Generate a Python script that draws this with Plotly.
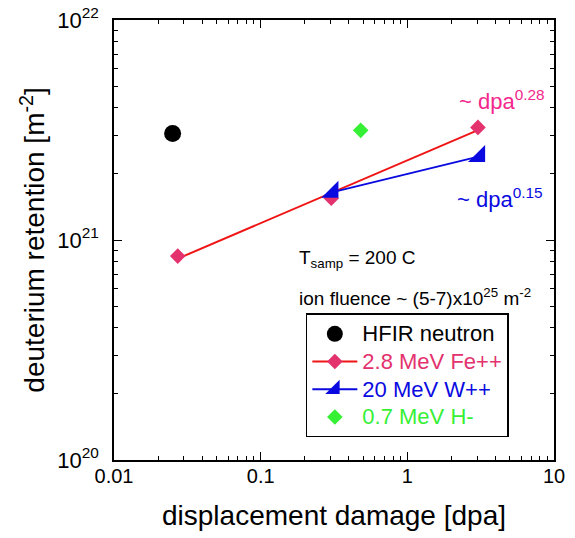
import numpy as np
import plotly.graph_objects as go

# ---- data ----
hfir_x = [0.0251]
hfir_y = [3.05e21]

fe_x = [0.0272, 0.303, 3.03]
fe_y = [8.45e20, 1.55e21, 3.25e21]

w_x = [0.31, 3.1]
w_y = [1.65e21, 2.40e21]

h_x = [0.481]
h_y = [3.15e21]

x_tickvals = [0.01, 0.1, 1, 10]
x_ticktext = ["0.01", "0.1", "1", "10"]
y_tickvals = [1e20, 1e21, 1e22]
y_ticktext = ["10<sup>20</sup>", "10<sup>21</sup>", "10<sup>22</sup>"]

names = ["HFIR neutron", "2.8 MeV Fe++", "20 MeV W++", "0.7 MeV H-"]

# ---- styles ----
FONT = "Liberation Sans, Arial, sans-serif"
C_FE_M = "#e3326e"
C_FE_L = "#f01515"
C_FE_T = "#f4288c"
C_W = "#0a0ae0"
C_H = "#36f036"

# power-law fit for Fe++ (log-log)
slope, icpt = np.polyfit(np.log10(fe_x), np.log10(fe_y), 1)
fit_x = np.array([min(fe_x), max(fe_x)])
fit_y = 10 ** (icpt + slope * np.log10(fit_x))

def lname(txt, col):
    return f'<span style="color:{col};font-size:22px">{txt}</span>'

fig = go.Figure()

# Fe fit line and markers
fig.add_trace(go.Scatter(x=fit_x, y=fit_y, mode="lines",
                         line=dict(color=C_FE_L, width=2), showlegend=False))
fig.add_trace(go.Scatter(x=fe_x, y=fe_y, mode="markers",
                         marker=dict(symbol="diamond", size=12, color=C_FE_M),
                         showlegend=False))
# W line + markers
fig.add_trace(go.Scatter(x=w_x, y=w_y, mode="lines+markers",
                         line=dict(color=C_W, width=2),
                         marker=dict(symbol="triangle-se", size=19, color=C_W),
                         showlegend=False))
# H
fig.add_trace(go.Scatter(x=h_x, y=h_y, mode="markers",
                         marker=dict(symbol="diamond", size=12, color=C_H),
                         showlegend=False))
# HFIR
fig.add_trace(go.Scatter(x=hfir_x, y=hfir_y, mode="markers",
                         marker=dict(symbol="circle", size=17, color="black"),
                         showlegend=False))

# legend entries
fig.add_trace(go.Scatter(x=[None], y=[None], mode="markers", name=lname(names[0], "black"),
                         marker=dict(symbol="circle", size=17, color="black")))
fig.add_trace(go.Scatter(x=[None], y=[None], mode="lines+markers", name=lname(names[1], C_FE_M),
                         line=dict(color=C_FE_L, width=2),
                         marker=dict(symbol="diamond", size=12, color=C_FE_M)))
fig.add_trace(go.Scatter(x=[None], y=[None], mode="lines+markers", name=lname(names[2], C_W),
                         line=dict(color=C_W, width=2),
                         marker=dict(symbol="triangle-se", size=19, color=C_W)))
fig.add_trace(go.Scatter(x=[None], y=[None], mode="markers", name=lname(names[3], C_H),
                         marker=dict(symbol="diamond", size=12, color=C_H)))

axis_common = dict(
    type="log", showgrid=False, zeroline=False, automargin=False,
    ticklabeloverflow="allow",
    showline=True, linecolor="black", linewidth=1.6, mirror="ticks",
    ticks="inside", ticklen=8, tickwidth=1.4, tickcolor="black",
    minor=dict(ticks="inside", ticklen=4, tickwidth=1.2, tickcolor="black",
               dtick="D1", showgrid=False),
)

fig.update_xaxes(**axis_common, range=[-2, 1], tickmode="array",
                 tickvals=x_tickvals, ticktext=x_ticktext, ticklabelstandoff=-3,
                 tickfont=dict(family=FONT, size=20, color="black"),
                 title=dict(text="displacement damage [dpa]",
                            font=dict(family=FONT, size=28, color="black"), standoff=20))
fig.update_yaxes(**axis_common, range=[20, 22], tickmode="array",
                 tickvals=y_tickvals, ticktext=y_ticktext, ticklabelstandoff=9,
                 tickfont=dict(family=FONT, size=22, color="black"),
                 title=dict(text="deuterium retention [m<sup>-2</sup>]",
                            font=dict(family=FONT, size=28, color="black"), standoff=4))

ann_font = dict(family=FONT, size=19, color="black")
fig.add_annotation(xref="paper", yref="paper", x=0.416, y=0.456, xanchor="left", yanchor="middle",
                   text="T<sub>samp</sub> = 200 C", showarrow=False, font=ann_font)
fig.add_annotation(xref="paper", yref="paper", x=0.416, y=0.370, xanchor="left", yanchor="middle",
                   text="ion fluence ~ (5-7)x10<sup>25</sup> m<sup>-2</sup>", showarrow=False, font=ann_font)
fig.add_annotation(xref="paper", yref="paper", x=0.780, y=0.818, xanchor="left", yanchor="middle",
                   text="~ dpa<sup>0.28</sup>", showarrow=False,
                   font=dict(family=FONT, size=22, color=C_FE_T))
fig.add_annotation(xref="paper", yref="paper", x=0.776, y=0.596, xanchor="left", yanchor="middle",
                   text="~ dpa<sup>0.15</sup>", showarrow=False,
                   font=dict(family=FONT, size=22, color=C_W))

fig.update_layout(
    width=575, height=538,
    margin=dict(l=114, r=21, t=20, b=78),
    paper_bgcolor="white", plot_bgcolor="white",
    font=dict(family=FONT, color="black"),
    legend=dict(x=0.436, y=0.333, xanchor="left", yanchor="top",
                bgcolor="white", bordercolor="black", borderwidth=1.5,
                font=dict(family=FONT, size=19), itemwidth=45, tracegroupgap=0),
)

# remove the page's default 8px body margin so the figure fills the window
fig.write_html("out.html", config={"displayModeBar": False},
               post_script="document.body.style.margin='0';")
